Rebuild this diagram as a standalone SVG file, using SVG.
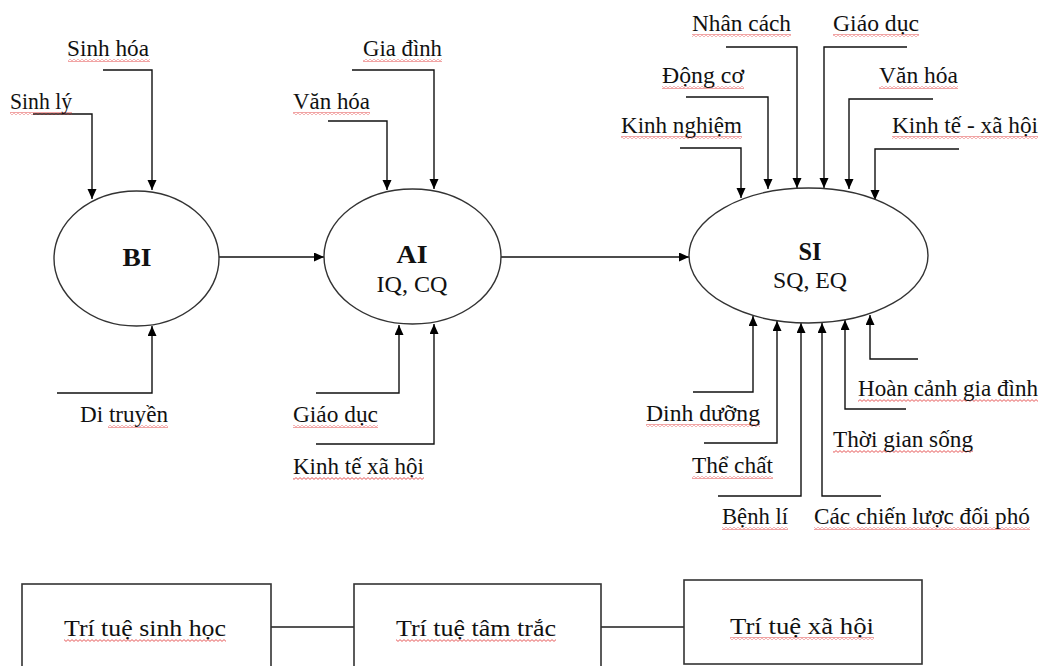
<svg xmlns="http://www.w3.org/2000/svg" width="1045" height="666" viewBox="0 0 1045 666">
<style>
.t{font-family:"Liberation Serif","Times New Roman",serif;font-size:22.5px;fill:#111;text-anchor:middle}
.b{font-weight:bold;font-size:26px}
.c{fill:none;stroke:#111;stroke-width:1.4}
.e{fill:#fff;stroke:#333;stroke-width:1.4}
.box{fill:#fff;stroke:#333;stroke-width:1.6}
.lk{fill:none;stroke:#555;stroke-width:2}
.sq{fill:url(#wave)}
</style>
<defs>
<marker id="ar" markerUnits="userSpaceOnUse" markerWidth="11" markerHeight="10" refX="10" refY="4.5" orient="auto">
<path d="M0,0 L10,4.5 L0,9 z" fill="#000"/>
</marker>
<pattern id="wave" patternUnits="userSpaceOnUse" width="4" height="3">
<path d="M0,0.6 L2,2.4 L4,0.6" fill="none" stroke="#e03030" stroke-width="0.8"/>
</pattern>
</defs>
<rect width="1045" height="666" fill="#fff"/>

<g id="connectors">
<path class="c" d="M103,70 H152 V190" marker-end="url(#ar)"/>
<path class="c" d="M33,114 H92 V199" marker-end="url(#ar)"/>
<path class="c" d="M57,393 H152 V326" marker-end="url(#ar)"/>
<path class="c" d="M219,257 H324" marker-end="url(#ar)"/>
<path class="c" d="M328,121 H387 V190" marker-end="url(#ar)"/>
<path class="c" d="M352,70 H434 V189" marker-end="url(#ar)"/>
<path class="c" d="M316,393 H399 V325" marker-end="url(#ar)"/>
<path class="c" d="M316,444 H434 V324" marker-end="url(#ar)"/>
<path class="c" d="M501,257 H689" marker-end="url(#ar)"/>
<path class="c" d="M680,148 H741 V198" marker-end="url(#ar)"/>
<path class="c" d="M686,97 H768 V189" marker-end="url(#ar)"/>
<path class="c" d="M726,47 H797 V188" marker-end="url(#ar)"/>
<path class="c" d="M907,47 H824 V188" marker-end="url(#ar)"/>
<path class="c" d="M933,99 H849 V189" marker-end="url(#ar)"/>
<path class="c" d="M959,149 H875 V200" marker-end="url(#ar)"/>
<path class="c" d="M693,392 H753 V316" marker-end="url(#ar)"/>
<path class="c" d="M704,443 H777 V321" marker-end="url(#ar)"/>
<path class="c" d="M718,496 H801 V323" marker-end="url(#ar)"/>
<path class="c" d="M881,496 H822 V323" marker-end="url(#ar)"/>
<path class="c" d="M906,409 H845 V320" marker-end="url(#ar)"/>
<path class="c" d="M918,359 H870 V315" marker-end="url(#ar)"/>
<path class="lk" d="M271,627 H354"/>
<path class="lk" d="M601,627 H684"/>
</g>

<g id="BI">
<ellipse class="e" cx="136.5" cy="258.5" rx="82.5" ry="67.5"/>
<text class="t b" x="137" y="266" textLength="29" lengthAdjust="spacingAndGlyphs">BI</text>
</g>
<g id="AI">
<ellipse class="e" cx="412.5" cy="256.5" rx="88.5" ry="67.5"/>
<text class="t b" x="412" y="263" textLength="31" lengthAdjust="spacingAndGlyphs">AI</text>
<text class="t" x="412" y="292" textLength="71" lengthAdjust="spacingAndGlyphs">IQ, CQ</text>
</g>
<g id="SI">
<ellipse class="e" cx="808.5" cy="255.5" rx="119.5" ry="67.5"/>
<text class="t b" x="810" y="260" textLength="23" lengthAdjust="spacingAndGlyphs">SI</text>
<text class="t" x="810" y="288" textLength="74" lengthAdjust="spacingAndGlyphs">SQ, EQ</text>
</g>

<g id="lbl-sinh-hoa"><rect class="sq" x="68" y="59" width="82" height="3"/><text class="t" x="108" y="56" textLength="82" lengthAdjust="spacingAndGlyphs">Sinh hóa</text></g>
<g id="lbl-sinh-ly"><rect class="sq" x="10" y="112" width="62" height="3"/><text class="t" x="41" y="109" textLength="62" lengthAdjust="spacingAndGlyphs">Sinh lý</text></g>
<g id="lbl-di-truyen"><rect class="sq" x="108" y="425" width="60" height="3"/><text class="t" x="124" y="422" textLength="88" lengthAdjust="spacingAndGlyphs">Di truyền</text></g>
<g id="lbl-van-hoa-ai"><rect class="sq" x="293" y="112" width="77" height="3"/><text class="t" x="331.5" y="109" textLength="77" lengthAdjust="spacingAndGlyphs">Văn hóa</text></g>
<g id="lbl-gia-dinh-ai"><rect class="sq" x="363" y="59" width="79" height="3"/><text class="t" x="402.5" y="56" textLength="79" lengthAdjust="spacingAndGlyphs">Gia đình</text></g>
<g id="lbl-giao-duc-ai"><rect class="sq" x="293" y="425" width="85" height="3"/><text class="t" x="335.5" y="422" textLength="85" lengthAdjust="spacingAndGlyphs">Giáo dục</text></g>
<g id="lbl-ktxh-ai"><rect class="sq" x="293" y="477" width="131" height="3"/><text class="t" x="358.5" y="474" textLength="131" lengthAdjust="spacingAndGlyphs">Kinh tế xã hội</text></g>

<g id="lbl-nhan-cach"><rect class="sq" x="692" y="34" width="99" height="3"/><text class="t" x="741.5" y="31" textLength="99" lengthAdjust="spacingAndGlyphs">Nhân cách</text></g>
<g id="lbl-giao-duc-si"><rect class="sq" x="833" y="34" width="86" height="3"/><text class="t" x="876" y="31" textLength="86" lengthAdjust="spacingAndGlyphs">Giáo dục</text></g>
<g id="lbl-dong-co"><rect class="sq" x="662" y="86" width="82" height="3"/><text class="t" x="703" y="83" textLength="82" lengthAdjust="spacingAndGlyphs">Động cơ</text></g>
<g id="lbl-van-hoa-si"><rect class="sq" x="879" y="86" width="79" height="3"/><text class="t" x="918.5" y="83" textLength="79" lengthAdjust="spacingAndGlyphs">Văn hóa</text></g>
<g id="lbl-kinh-nghiem"><rect class="sq" x="621" y="136" width="121" height="3"/><text class="t" x="681.5" y="133" textLength="121" lengthAdjust="spacingAndGlyphs">Kinh nghiệm</text></g>
<g id="lbl-ktxh-si"><rect class="sq" x="892" y="136" width="146" height="3"/><text class="t" x="965" y="133" textLength="146" lengthAdjust="spacingAndGlyphs">Kinh tế - xã hội</text></g>

<g id="lbl-hoan-canh"><rect class="sq" x="858" y="399" width="180" height="3"/><text class="t" x="948" y="396" textLength="180" lengthAdjust="spacingAndGlyphs">Hoàn cảnh gia đình</text></g>
<g id="lbl-dinh-duong"><rect class="sq" x="646" y="424" width="114" height="3"/><text class="t" x="703" y="421" textLength="114" lengthAdjust="spacingAndGlyphs">Dinh dưỡng</text></g>
<g id="lbl-thoi-gian"><rect class="sq" x="833" y="450" width="140" height="3"/><text class="t" x="903" y="447" textLength="140" lengthAdjust="spacingAndGlyphs">Thời gian sống</text></g>
<g id="lbl-the-chat"><rect class="sq" x="692" y="476" width="81" height="3"/><text class="t" x="732.5" y="473" textLength="81" lengthAdjust="spacingAndGlyphs">Thể chất</text></g>
<g id="lbl-benh-li"><rect class="sq" x="722" y="527" width="66" height="3"/><text class="t" x="755" y="524" textLength="66" lengthAdjust="spacingAndGlyphs">Bệnh lí</text></g>
<g id="lbl-chien-luoc"><rect class="sq" x="814" y="527" width="216" height="3"/><text class="t" x="922" y="524" textLength="216" lengthAdjust="spacingAndGlyphs">Các chiến lược đối phó</text></g>

<g id="box-sinh-hoc">
<rect class="box" x="22" y="584" width="249" height="100"/>
<rect class="sq" x="64" y="639" width="162" height="3"/>
<text class="t" x="145" y="636" textLength="162" lengthAdjust="spacingAndGlyphs">Trí tuệ sinh học</text>
</g>
<g id="box-tam-trac">
<rect class="box" x="354" y="584" width="247" height="100"/>
<rect class="sq" x="396" y="639" width="160" height="3"/>
<text class="t" x="476" y="636" textLength="160" lengthAdjust="spacingAndGlyphs">Trí tuệ tâm trắc</text>
</g>
<g id="box-xa-hoi">
<rect class="box" x="684" y="580" width="238" height="84"/>
<rect class="sq" x="730" y="637" width="144" height="3"/>
<text class="t" x="802" y="634" textLength="144" lengthAdjust="spacingAndGlyphs">Trí tuệ xã hội</text>
</g>
</svg>
